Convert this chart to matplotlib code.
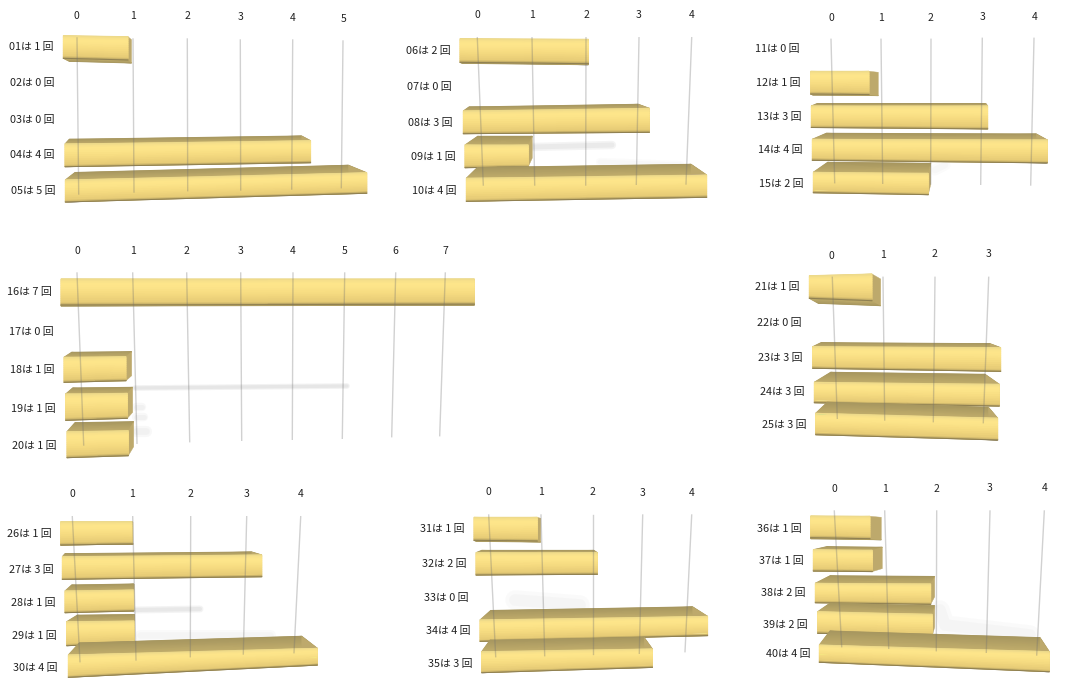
import numpy as np
import matplotlib
matplotlib.use('Agg')
import matplotlib.pyplot as plt
from matplotlib.colors import LinearSegmentedColormap
from matplotlib.patches import Polygon

plt.rcParams['font.family'] = ['Noto Sans CJK JP', 'DejaVu Sans']

# Data: one list of categories and one list of counts per small chart
cats_a = ['01', '02', '03', '04', '05']
vals_a = [1, 0, 0, 4, 5]
cats_b = ['06', '07', '08', '09', '10']
vals_b = [2, 0, 3, 1, 4]
cats_c = ['11', '12', '13', '14', '15']
vals_c = [0, 1, 3, 4, 2]
cats_d = ['16', '17', '18', '19', '20']
vals_d = [7, 0, 1, 1, 1]
cats_e = ['21', '22', '23', '24', '25']
vals_e = [1, 0, 3, 3, 3]
cats_f = ['26', '27', '28', '29', '30']
vals_f = [1, 3, 1, 1, 4]
cats_g = ['31', '32', '33', '34', '35']
vals_g = [1, 2, 0, 4, 3]
cats_h = ['36', '37', '38', '39', '40']
vals_h = [1, 1, 2, 2, 4]

# Layout of each faked 3D panel, all in pixels.
# grid: x top, y top, x bottom, y bottom for every value
# ticks: x, y of the value labels. names: x, y of the row labels
# rows: x0, px per unit, y top, height, top slope, bottom slope, back-left dx, back-right dx, back dy
panels = [
    dict(cats=cats_a, vals=vals_a,
         grid=[(77, 38, 78.7, 194), (133, 39, 134, 192), (187.3, 39, 187.7, 190.7),
               (240.3, 40, 240.7, 190), (292.7, 40, 291.7, 189), (343, 41, 341.3, 187.7)],
         ticks=[(76, 15.7), (132.7, 16), (187.7, 16), (240.7, 17), (292.7, 18), (343.3, 19)],
         names=[(31, 47), (32, 83), (32, 120), (32.7, 155), (33, 191)],
         rows=[(63.3, 64.7, 35.7, 22.6, .015, .026, 6, 3.5, 3), None, None,
               (65, 61.4, 144, 22.7, -.0134, -.0163, 4.3, -9, -4.7),
               (65.3, 60.3, 180, 22, -.024, -.029, 9.7, -18.4, -7.5)]),
    dict(cats=cats_b, vals=vals_b,
         grid=[(477.3, 37.7, 483.3, 185), (532, 37.7, 534.7, 185), (586, 37.7, 585.7, 185),
               (639, 37.7, 636.3, 184.3), (691.7, 37.7, 686, 184)],
         ticks=[(477, 15.3), (532, 15.3), (586, 15.3), (638.7, 15.3), (691.7, 15.3)],
         names=[(428, 51), (429, 87.3), (430.7, 123), (433, 157), (434.3, 191)],
         rows=[(460, 64.2, 38.7, 23.6, .005, .011, 2, 0, 1), None,
               (463.3, 62, 111, 22.7, -.0145, -.0075, 5.7, -11, -4),
               (465, 63.3, 145, 22.7, 0, -.016, 12.7, 4, -8.7),
               (466.3, 60.1, 178.3, 23, -.0137, -.0166, 11, -15.7, -10.7)]),
    dict(cats=cats_c, vals=vals_c,
         grid=[(831, 39.3, 834.7, 182.7), (881, 39.3, 882.7, 183.3), (931, 39.3, 930.7, 184),
               (982.3, 38.3, 980.7, 184.3), (1034, 38.3, 1030.7, 185)],
         ticks=[(831, 17.7), (880.7, 17.7), (930.7, 17.7), (982.7, 16.7), (1034.7, 16.7)],
         names=[(777.3, 49.3), (778.7, 83.3), (779.7, 117.3), (780.3, 150.3), (781.3, 183.7)],
         rows=[None,
               (810.7, 58.3, 71.3, 22.7, 0, .01, 2, 9.3, 1),
               (811.3, 58.8, 106, 21.5, 0, .008, 6, -2, -2.5),
               (812.3, 58.75, 139.3, 21, .003, .011, 14, -11, -6),
               (813.3, 57.5, 172.3, 20.4, .009, .017, 14.4, 2.4, -10)]),
    dict(cats=cats_d, vals=vals_d,
         grid=[(77, 273, 83.7, 445), (132.7, 273, 137, 443.3), (186.7, 273, 189.7, 441.7),
               (240.7, 273, 241.7, 440.3), (293, 273, 292.3, 439.3), (344.7, 273, 342.3, 438.3),
               (395.7, 273, 391.7, 436.7), (445.3, 273, 439.7, 435.7)],
         ticks=[(77, 251.3), (132.7, 251.3), (186.7, 251.3), (240.7, 251.3), (293, 251.3),
                (344.7, 251.3), (395.7, 251.3), (445.7, 251.3)],
         names=[(29.3, 292), (31.3, 332.3), (32.3, 370), (33.3, 408.7), (34.7, 446.3)],
         rows=[(61, 59.05, 279, 26, 0, -.002, 0, 0, 1), None,
               (64, 62, 357.3, 25, -.01, -.026, 7.7, 5.7, -5),
               (65.7, 61.6, 394, 26.3, -.011, -.032, 7, 5.4, -6),
               (67, 61.3, 431.7, 26, -.016, -.033, 8, 5.4, -9)]),
    dict(cats=cats_e, vals=vals_e,
         grid=[(832.3, 277.3, 837.3, 418.3), (883, 277.3, 884.7, 420), (935, 277.3, 933.3, 421.7),
               (988.7, 277.3, 983.3, 422.7)],
         ticks=[(831.7, 256), (882.7, 255), (934.7, 254.3), (988.7, 254)],
         names=[(777, 287.3), (779, 323.3), (780.7, 358.3), (782, 392.3), (784, 425.3)],
         rows=[(809.3, 62.7, 275.7, 22.6, -.027, .038, 9, 8.7, 5), None,
               (812.7, 62.67, 346.7, 21.6, .0053, .016, 8.3, -10.7, -4),
               (814.3, 61.67, 382.3, 20.4, .011, .018, 16.4, -14.3, -10),
               (815.7, 60.67, 413.3, 21.4, .027, .029, 11.6, -9.4, -11)]),
    dict(cats=cats_f, vals=vals_f,
         grid=[(72.3, 516.7, 80, 661.7), (132.7, 516.7, 136, 660), (190.7, 516.7, 190.3, 656.7),
               (246.7, 516.7, 243.3, 654), (300.7, 516.7, 294, 652.7)],
         ticks=[(72, 494.3), (132.3, 494.3), (190.3, 494.3), (246.7, 494.3), (301, 494.3)],
         names=[(29, 533.7), (31, 569.7), (33, 603), (34, 636), (35.7, 668)],
         rows=[(60.7, 71.6, 521.7, 23.3, 0, -.014, 0, 1, 0),
               (62.3, 66.5, 556.7, 22.6, -.0085, -.013, 2.7, -10, -3),
               (65, 68.7, 591, 21.7, -.0146, -.025, 6.7, 0, -6),
               (66.7, 67.6, 621.7, 24, -.01, -.04, 10.6, 0, -6.5),
               (68.3, 62.25, 655, 22.3, -.027, -.049, 11, -15.6, -12)]),
    dict(cats=cats_g, vals=vals_g,
         grid=[(488.7, 515, 495.7, 656.7), (541, 515, 544.7, 655.7), (592.7, 515, 592.7, 654.3),
               (642.7, 515, 639.3, 653.3), (691.7, 515, 685, 651.7)],
         ticks=[(488.7, 492.3), (540.7, 492.3), (592.7, 492.3), (642.7, 492.7), (691.7, 492.7)],
         names=[(442, 529.3), (444, 564.3), (446, 598), (448, 631), (450, 663.7)],
         rows=[(474, 63.3, 517.3, 23, 0, .011, 2, 3.4, 1),
               (476, 60.67, 552.7, 22.3, 0, -.006, 5.7, -3.5, -2.3), None,
               (480, 56.9, 620, 21.3, -.016, -.025, 10.7, -15, -9.5),
               (481.7, 56.9, 651.7, 21, -.016, -.031, 8.3, -8.3, -11.5)]),
    dict(cats=cats_h, vals=vals_h,
         grid=[(834.3, 511, 841.7, 646.7), (884.7, 511, 888.7, 648.3), (936.7, 511, 936.3, 650.7),
               (990, 511, 986.3, 652.3), (1044.3, 511, 1036.7, 655)],
         ticks=[(834, 489), (885, 489), (936.7, 488.7), (989.7, 487.7), (1044.7, 487.7)],
         names=[(779, 528.7), (781, 561), (783, 593.3), (785.7, 624.7), (788, 654.3)],
         rows=[(810.7, 59.3, 516, 21.7, .005, .017, 0, 11.3, 1),
               (813.3, 59, 549.7, 21.3, .01, .01, 13.4, 10, -3),
               (815.3, 57.7, 583.3, 19.4, .006, .014, 14.7, 4, -7.5),
               (817.7, 57.3, 611.7, 21.6, .023, .02, 12.3, 2.4, -8.5),
               (819.3, 57.5, 645, 17.3, .029, .041, 10.7, -9.3, -14)]),
]

# Soft smears behind the bars: x list, y list, width, alpha
smears = [
    ([532, 612], [147, 145], 6, .13), ([600, 680], [162, 165], 6, .04),
    ([135, 347], [388, 386], 4, .16), ([136, 142], [407, 407], 6, .08),
    ([136, 144], [417, 417], 6, .08), ([136, 146], [431, 431], 8, .08),
    ([135, 200], [610, 609], 5, .14), ([140, 270], [635, 635], 8, .05),
    ([515, 580], [600, 605], 14, .05), ([940, 945, 1030], [610, 625, 635], 14, .05),
    ([935, 945], [170, 165], 8, .04),
]

face_cmap = LinearSegmentedColormap.from_list(
    'face', [(0, '#ecd98a'), (.12, '#fde58a'), (.3, '#fde58a'), (.6, '#f5da80'),
             (.92, '#e6cb76'), (1, '#a8965c')])
cap_cmap = LinearSegmentedColormap.from_list('cap', ['#a6965f', '#c2ae6c'])
SIDE_COLOR = '#bda96c'
STRIPS = 12


def front_xy(row, value, frac):
    """Pixel position of a point on the bar front, frac 0 is the top edge and 1 the bottom."""
    x0, unit, ytop, h, st, sb = row[:6]
    dx = unit * value
    return x0 + dx, ytop + h * frac + (st + (sb - st) * frac) * dx


def draw_bar(ax, row, value):
    x0, unit, ytop, h, st, sb, dxl, dxr, dy = row
    lt = front_xy(row, 0, 0)
    lb = front_xy(row, 0, 1)
    rt = front_xy(row, value, 0)
    rb = front_xy(row, value, 1)
    # top face when the back is above the front, underside otherwise
    a, b = (lt, rt) if dy < 0 else (lb, rb)
    back_a = (a[0] + dxl, a[1] + dy)
    back_b = (b[0] + dxr, b[1] + dy)
    ax.add_patch(Polygon([a, b, back_b, back_a], fc='#b3a269', ec='#b3a269', lw=.3, zorder=3))
    ax.pcolormesh([[back_a[0], back_b[0]], [a[0], b[0]]], [[back_a[1], back_b[1]], [a[1], b[1]]],
                  [[0, 0], [1, 1]], cmap=cap_cmap, vmin=0, vmax=1, shading='gouraud', zorder=3)
    ax.add_patch(Polygon([rt, (rt[0] + dxr, rt[1] + dy), (rb[0] + dxr, rb[1] + dy), rb],
                         fc=SIDE_COLOR, ec=SIDE_COLOR, lw=.3, zorder=3))
    # front face with a smooth vertical gradient
    fracs = np.linspace(0, 1, STRIPS + 1)
    left = np.array([front_xy(row, 0, f) for f in fracs])
    right = np.array([front_xy(row, value, f) for f in fracs])
    ax.add_patch(Polygon([lt, rt, rb, lb], fc='#f5da80', ec='#e6cb76', lw=.4, zorder=3))
    ax.pcolormesh(np.column_stack([left[:, 0], right[:, 0]]),
                  np.column_stack([left[:, 1], right[:, 1]]),
                  np.column_stack([fracs, fracs]), cmap=face_cmap, vmin=0, vmax=1,
                  shading='gouraud', zorder=3)
    ax.plot([lb[0], rb[0]], [lb[1], rb[1]], color='#8f8052', lw=.7, zorder=3)


fig = plt.figure(figsize=(10.74, 6.99), dpi=100)
ax = fig.add_axes([0, 0, 1, 1])
ax.axis('off')

for xs, ys, w, a in smears:
    for k in (1, .6):
        ax.plot(xs, ys, color='#777777', lw=w * k, alpha=a * .6, solid_capstyle='round', zorder=1)

for p in panels:
    for i, (row, v) in enumerate(zip(p['rows'], p['vals'])):
        if row is not None and v > 0:
            draw_bar(ax, row, v)
        nx, ny = p['names'][i]
        ax.text(nx, ny, f"{p['cats'][i]}は {v} 回", fontsize=7.8, color='#222222',
                ha='center', va='center', zorder=5)
    for n, (x1, y1, x2, y2) in enumerate(p['grid']):
        # translucent so that the lines show through the bars
        ax.plot([x1, x2], [y1, y2], color='#707070', lw=1.0, alpha=.32, zorder=4)
        tx, ty = p['ticks'][n]
        ax.text(tx, ty, str(n), fontsize=7.5, color='#222222', ha='center', va='center', zorder=5)

ax.set_xlim(0, 1074)
ax.set_ylim(699, 0)
fig.savefig('out.png', dpi=100, facecolor='white')
